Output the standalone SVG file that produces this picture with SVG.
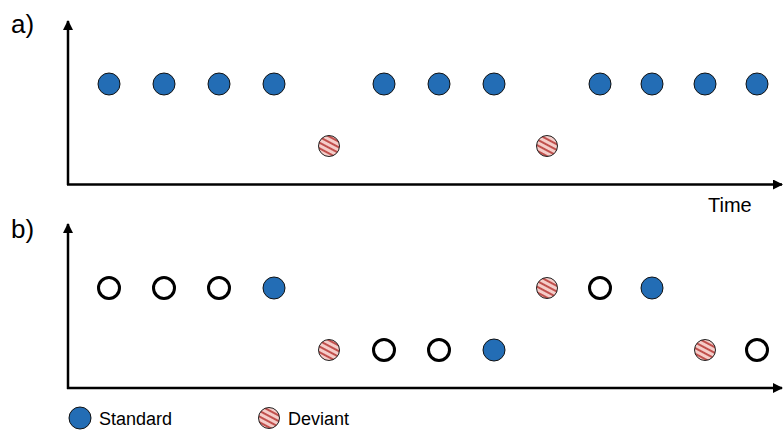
<svg xmlns="http://www.w3.org/2000/svg" width="783" height="430" viewBox="0 0 783 430">
<defs>
<pattern id="hatch" patternUnits="userSpaceOnUse" width="5" height="5" patternTransform="rotate(28)">
<rect width="5" height="5" fill="#f5cdc9"/>
<rect y="0" width="5" height="2" fill="#c0504d"/>
</pattern>
<marker id="arr" viewBox="0 0 10 10" refX="9" refY="5" markerWidth="4" markerHeight="4" orient="auto" markerUnits="strokeWidth">
<path d="M0,0 L10,5 L0,10 Z" fill="#000"/>
</marker>
<style>
.axis{stroke:#000;stroke-width:2.5;fill:none}
.std{fill:#236db5;stroke:#111;stroke-width:1}
.dev{fill:url(#hatch);stroke:#222;stroke-width:1}
.open{fill:#fff;stroke:#000;stroke-width:3}
.lbl{font-family:"Liberation Sans",Arial,sans-serif;fill:#000}
</style>
</defs>
<g id="labels">
<text class="lbl" x="11" y="33" font-size="26">a)</text>
<text class="lbl" x="11" y="238" font-size="26">b)</text>
<text class="lbl" x="708" y="212" font-size="20">Time</text>
</g>
<g id="connectors">
<path class="axis" d="M68,185 L68,21" marker-end="url(#arr)"/>
<path class="axis" d="M67,184.5 L782,184.5" marker-end="url(#arr)"/>
<path class="axis" d="M68,389 L68,224" marker-end="url(#arr)"/>
<path class="axis" d="M67,388 L782,388" marker-end="url(#arr)"/>
</g>
<g id="panel-a">
<circle class="std" cx="109" cy="84" r="11"/>
<circle class="std" cx="164" cy="84" r="11"/>
<circle class="std" cx="219" cy="84" r="11"/>
<circle class="std" cx="274" cy="84" r="11"/>
<circle class="dev" cx="329" cy="146" r="10.5"/>
<circle class="std" cx="384" cy="84" r="11"/>
<circle class="std" cx="439" cy="84" r="11"/>
<circle class="std" cx="494" cy="84" r="11"/>
<circle class="dev" cx="547" cy="146" r="10.5"/>
<circle class="std" cx="600" cy="84" r="11"/>
<circle class="std" cx="652" cy="84" r="11"/>
<circle class="std" cx="705" cy="84" r="11"/>
<circle class="std" cx="757" cy="84" r="11"/>
</g>
<g id="panel-b">
<circle class="open" cx="109" cy="288" r="10.5"/>
<circle class="open" cx="164" cy="288" r="10.5"/>
<circle class="open" cx="219" cy="288" r="10.5"/>
<circle class="std" cx="274" cy="288" r="11"/>
<circle class="dev" cx="329" cy="350" r="10.5"/>
<circle class="open" cx="384" cy="350" r="10.5"/>
<circle class="open" cx="439" cy="350" r="10.5"/>
<circle class="std" cx="494" cy="350" r="11"/>
<circle class="dev" cx="547" cy="288" r="10.5"/>
<circle class="open" cx="600" cy="288" r="10.5"/>
<circle class="std" cx="652" cy="288" r="11"/>
<circle class="dev" cx="705" cy="350" r="10.5"/>
<circle class="open" cx="757" cy="350" r="10.5"/>
</g>
<g id="legend">
<circle class="std" cx="80" cy="418" r="11"/>
<text class="lbl" x="99" y="425" font-size="18">Standard</text>
<circle class="dev" cx="269" cy="418" r="10.5"/>
<text class="lbl" x="288" y="425" font-size="18">Deviant</text>
</g>
</svg>
